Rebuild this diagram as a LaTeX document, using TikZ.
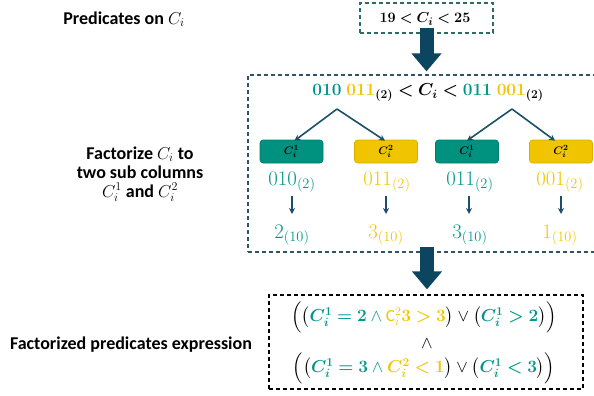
\documentclass[tikz,border=0pt]{standalone}
\usepackage{amsmath}
\usepackage{bm}
\usepackage{fontspec}
\setmainfont{Carlito}
\usetikzlibrary{arrows.meta}
\definecolor{tealc}{HTML}{00968A}
\definecolor{yelc}{HTML}{F2C500}
\definecolor{tealbox}{HTML}{00917F}
\definecolor{tealboxd}{HTML}{007A6C}
\definecolor{yelbox}{HTML}{F0C500}
\definecolor{yelboxd}{HTML}{D6AD00}
\definecolor{darkarr}{HTML}{0B4560}
\definecolor{topdash}{HTML}{2E6B60}
\definecolor{middash}{HTML}{2F5468}
\definecolor{treec}{HTML}{1B5068}
\tikzset{
  lbl/.style={font=\fontsize{18}{19}\selectfont\bfseries, align=center, inner sep=0pt},
  dbox/.style={draw, dash pattern=on 4pt off 3pt, line width=1.2pt, inner sep=0pt},
  subbox/.style={draw, rounded corners=3pt, line width=0.6pt, minimum width=63pt, minimum height=23pt, inner sep=0pt, font=\fontsize{11}{13}\selectfont},
  numtxt/.style={inner sep=0pt, font=\fontsize{17}{20}\selectfont},
  bigtxt/.style={inner sep=0pt, font=\fontsize{20}{22}\selectfont},
  eqtxt/.style={inner sep=0pt, font=\fontsize{18.5}{20}\selectfont},
  toptxt/.style={inner sep=0pt, font=\fontsize{15.5}{18}\selectfont},
  blockarr/.style={draw=darkarr, line width=14pt, -{Triangle[width=29pt,length=18pt]}},
  treearr/.style={draw=treec, line width=1.6pt, -{Stealth[length=6pt,width=6pt]}},
  smallarr/.style={draw=treec, line width=1.6pt, -{Stealth[length=6pt,width=6pt]}}
}
\begin{document}
\begin{tikzpicture}[x=1pt,y=-1pt]
\useasboundingbox (0,0) rectangle (594,396);
% left labels
\node[lbl] (l1) at (124,19) {Predicates on $C_i$};
\node[lbl] (l2) at (140,174) {Factorize $C_i$ to\\two sub columns\\$C_i^1$ and $C_i^2$};
\node[lbl] (l3) at (131,345) {Factorized predicates expression};
% top box
\node[dbox, draw=topdash, minimum width=133pt, minimum height=30pt] (tbox) at (426.5,18) {};
\node[toptxt] (ttxt) at (425,19) {$\bm{19 < C_i < 25}$};
% middle box
\node[dbox, draw=middash, minimum width=352pt, minimum height=177pt] (mbox) at (424,163.5) {};
% bottom box
\node[dbox, draw=black, minimum width=314pt, minimum height=94pt] (bbox) at (426,342) {};
% block arrows
\draw[blockarr] ([yshift=6pt]tbox.south) -- ([yshift=3pt]tbox.south |- mbox.north);
\draw[blockarr] ([xshift=0.5pt,yshift=6pt]tbox.south |- mbox.south) -- ([xshift=0.5pt,yshift=5pt]tbox.south |- bbox.north);
% equation
\node[eqtxt] (eq) at (428,93) {$\bm{\textcolor{tealc}{010}\;\textcolor{yelc}{011}_{(2)} < C_i < \textcolor{tealc}{011}\;\textcolor{yelc}{001}_{(2)}}$};
\coordinate (apL) at (337,109);
\coordinate (apR) at (512,109);
% sub boxes
\node[subbox, fill=tealbox, draw=tealboxd] (b1) at (291.5,151.5) {$\bm{C_i^1}$};
\node[subbox, fill=yelbox, draw=yelboxd] (b2) at (386,151.5) {$\bm{C_i^2}$};
\node[subbox, fill=tealbox, draw=tealboxd] (b3) at (467,151.5) {$\bm{C_i^1}$};
\node[subbox, fill=yelbox, draw=yelboxd] (b4) at (561,151.5) {$\bm{C_i^2}$};
\draw[treearr] (apL) -- ([xshift=3pt,yshift=-1pt]b1.north);
\draw[treearr] (apL) -- ([xshift=-1pt,yshift=-1pt]b2.north);
\draw[treearr] (apR) -- ([yshift=-1pt]b3.north);
\draw[treearr] (apR) -- ([xshift=-6pt,yshift=-1pt]b4.north);
% binary
\node[bigtxt, text=tealc] (n1) at (292,182) {$010_{(2)}$};
\node[bigtxt, text=yelc] (n2) at (387,182) {$011_{(2)}$};
\node[bigtxt, text=tealc] (n3) at (470,182) {$011_{(2)}$};
\node[bigtxt, text=yelc] (n4) at (560,182) {$001_{(2)}$};
% decimal
\node[bigtxt, text=tealc] (d1) at (292,235) {$2_{(10)}$};
\node[bigtxt, text=yelc] (d2) at (386,235) {$3_{(10)}$};
\node[bigtxt, text=tealc] (d3) at (470,235) {$3_{(10)}$};
\node[bigtxt, text=yelc] (d4) at (560,235) {$1_{(10)}$};
\coordinate (s1) at (292,196); \coordinate (e1) at (292,214);
\coordinate (s2) at (386,196); \coordinate (e2) at (386,214);
\coordinate (s3) at (469,196); \coordinate (e3) at (469,214);
\coordinate (s4) at (561,196); \coordinate (e4) at (561,214);
\draw[smallarr] (s1) -- (e1);
\draw[smallarr] (s2) -- (e2);
\draw[smallarr] (s3) -- (e3);
\draw[smallarr] (s4) -- (e4);
% expression
\node[numtxt] (x1) at (424,317) {$\Bigl(\bigl(\textcolor{tealc}{\bm{C_i^1 = 2}\ \wedge}\ \textcolor{yelc}{\mathrm{C}_i^2\bm{3 > 3}}\bigr) \vee \bigl(\textcolor{tealc}{\bm{C_i^1 > 2}}\bigr)\Bigr)$};
\node[numtxt] (x2) at (427,344) {$\wedge$};
\node[numtxt] (x3) at (424,368) {$\Bigl(\bigl(\textcolor{tealc}{\bm{C_i^1 = 3}\ \wedge}\ \textcolor{yelc}{\bm{C_i^2 < 1}}\bigr) \vee \bigl(\textcolor{tealc}{\bm{C_i^1 < 3}}\bigr)\Bigr)$};
\end{tikzpicture}
\end{document}
